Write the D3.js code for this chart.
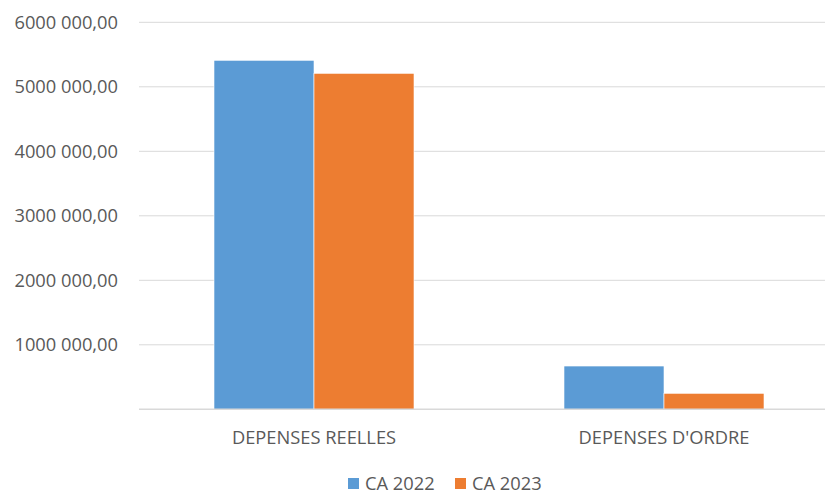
<!DOCTYPE html>
<html>
<head>
<meta charset="utf-8">
<script src="https://cdn.jsdelivr.net/npm/d3@7"></script>
<style>
  html, body { margin: 0; padding: 0; background: #fff; }
  svg { display: block; }
  text { font-family: "Open Sans", "Liberation Sans", sans-serif; fill: #595959; }
</style>
</head>
<body>
<svg id="chart" width="825" height="491"></svg>
<script>
// Budget execution by expense type
const categories = ["DEPENSES REELLES", "DEPENSES D'ORDRE"];
const seriesNames = ["CA 2022", "CA 2023"];
const ca2022 = [5411000, 671000];
const ca2023 = [5209000, 248000];
const yTicks = [1000000, 2000000, 3000000, 4000000, 5000000, 6000000];
const colors = ["#5b9bd5", "#ed7d31"];

const series = [ca2022, ca2023];
const svg = d3.select("#chart");
const W = 825, H = 491;
const plotLeft = 139, plotRight = 839, plotTop = 22.3, plotBottom = 409.3;
const fontSize = 18.3;

const x0 = d3.scaleBand().domain(categories).range([plotLeft, plotRight])
  .paddingInner(3 / 7).paddingOuter(3 / 14);
const x1 = d3.scaleBand().domain(seriesNames).range([0, x0.bandwidth()]).padding(0);
const y = d3.scaleLinear().domain([0, 6000000]).range([plotBottom, plotTop]);

const fmt = v => {
  const s = d3.format(".2f")(v).replace(".", ",");
  const [intPart, dec] = s.split(",");
  const grouped = intPart.length > 3 ? intPart.slice(0, -3) + " " + intPart.slice(-3) : intPart;
  return grouped + "," + dec;
};

// gridlines
svg.append("g").selectAll("line").data(yTicks).join("line")
  .attr("x1", plotLeft).attr("x2", W)
  .attr("y1", d => y(d)).attr("y2", d => y(d))
  .attr("stroke", "#d9d9d9").attr("stroke-width", 1);

// y labels
svg.append("g").selectAll("text").data(yTicks).join("text")
  .attr("x", 118).attr("y", d => y(d)).attr("dy", "0.35em")
  .attr("text-anchor", "end").attr("font-size", fontSize)
  .text(fmt);

// bars
const groups = svg.append("g").selectAll("g").data(categories).join("g")
  .attr("transform", c => `translate(${x0(c)},0)`);
groups.selectAll("rect")
  .data((c, i) => seriesNames.map((s, j) => ({ s, v: series[j][i], j })))
  .join("rect")
  .attr("x", d => x1(d.s))
  .attr("width", x1.bandwidth())
  .attr("y", d => y(d.v))
  .attr("height", d => plotBottom - y(d.v))
  .attr("fill", d => colors[d.j])
  .attr("stroke", "#fff").attr("stroke-width", 0.6);

// baseline
svg.append("line").attr("x1", plotLeft).attr("x2", W)
  .attr("y1", plotBottom).attr("y2", plotBottom)
  .attr("stroke", "#d9d9d9").attr("stroke-width", 1.5);

// category labels
svg.append("g").selectAll("text").data(categories).join("text")
  .attr("x", c => x0(c) + x0.bandwidth() / 2).attr("y", 444)
  .attr("text-anchor", "middle").attr("font-size", fontSize)
  .text(c => c);

// legend
const legendX = [348, 455];
const leg = svg.append("g").selectAll("g").data(seriesNames).join("g")
  .attr("transform", (d, i) => `translate(${legendX[i]},478)`);
leg.append("rect").attr("width", 11).attr("height", 11)
  .attr("fill", (d, i) => colors[i]);
leg.append("text").attr("x", 17).attr("y", 5.5).attr("dy", "0.35em")
  .attr("font-size", fontSize).text(d => d);
</script>
</body>
</html>
